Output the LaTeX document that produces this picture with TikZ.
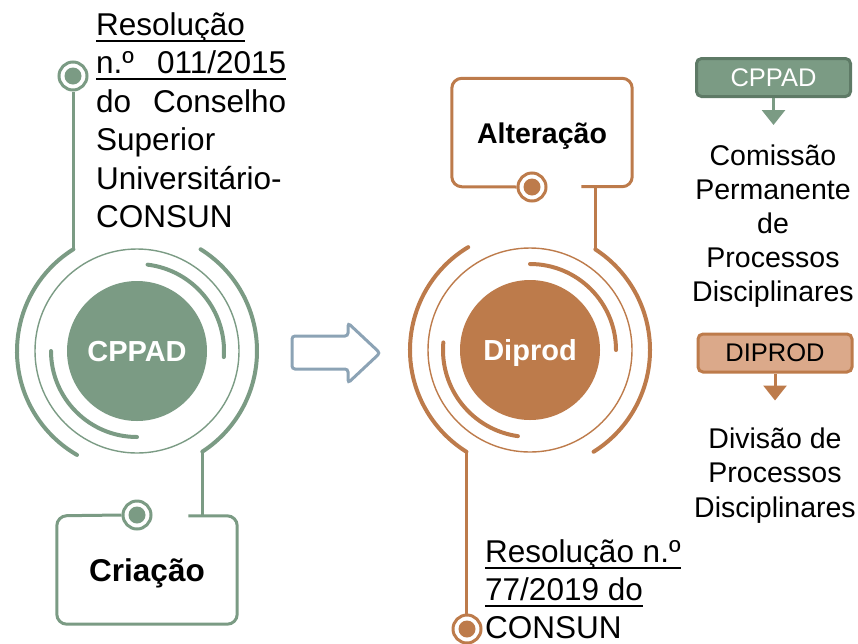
\documentclass[tikz,border=0pt]{standalone}
\usepackage{fontspec}
\setmainfont{Liberation Sans}
\usetikzlibrary{arrows.meta,positioning}

\definecolor{sage}{HTML}{7B9B84}
\definecolor{sagedark}{HTML}{5E7A66}
\definecolor{copper}{HTML}{BD7B4B}
\definecolor{copperlight}{HTML}{DBA98A}
\definecolor{steel}{HTML}{8CA3B5}

% underline at a fixed depth
\newcommand{\ulin}[1]{\setbox0\hbox{#1}\rlap{\rule[-6.5pt]{\wd0}{1.8pt}}\box0}

\begin{document}
\begin{tikzpicture}[x=1pt, y=1pt,
    hub/.style={circle, fill=#1, text=white, minimum size=140, inner sep=0, text height=20, text depth=0, font=\fontsize{29}{34}\selectfont\bfseries},
    ring/.style={draw=#1, line width=1.4},
    band/.style={draw=#1, line width=4, line cap=round},
    conn/.style={draw=#1, line width=3},
    marker/.style={circle, draw=#1, line width=3, fill=white, minimum size=28, inner sep=0,
        path picture={\fill[#1] (path picture bounding box.center) circle (8.5);}},
    card/.style={minimum width=180, minimum height=108, inner sep=0, text depth=0},
    cardline/.style={draw=#1, line width=3, rounded corners=10},
    txt/.style={inner sep=0, anchor=base west, font=\fontsize{31.5}{38.5}\selectfont},
    keybox/.style={draw=#1, line width=3, rounded corners=5, minimum width=154, minimum height=38, inner sep=0, font=\fontsize{25.5}{30}\selectfont},
    keytxt/.style={inner sep=0, anchor=base, font=\fontsize{28.5}{34}\selectfont},
    keyarrow/.style={draw=#1, line width=3, -{Triangle[width=23pt,length=15pt,fill=#1]}}
]
\useasboundingbox (0,0) rectangle (858,-643);

% CPPAD (left)
\node[hub=sage] (cppad) at (137,-351) {CPPAD};
\draw[ring=sage] (cppad.center) circle (102);
\draw[band=sage] ([shift={(122:120)}]cppad.center) arc[start angle=122, end angle=240, radius=120];
\draw[band=sage] ([shift={(-57:120)}]cppad.center) arc[start angle=-57, end angle=58, radius=120];
\draw[band=sage] ([shift={(180:86)}]cppad.center) arc[start angle=180, end angle=270, radius=86];
\draw[band=sage] ([shift={(83:87)}]cppad.center) arc[start angle=83, end angle=-4, radius=87];
\coordinate (g1) at ([shift={(122:120)}]cppad.center);
\coordinate (g2) at ([shift={(-57:120)}]cppad.center);

\node[marker=sage] (m1) at (73,-76) {};
\draw[conn=sage] (m1.south) -- (m1 |- g1);

\node[card, text height=23, font=\fontsize{31.5}{36}\selectfont\bfseries] (criacao) at (147,-570) {Criação};
\node[marker=sage] (m2) at (137,-515) {};
\draw[conn=sage] (g2) -- (g2 |- criacao.north);
\draw[cardline=sage] (m2.west) -- (criacao.north west) -- (criacao.south west) -- (criacao.south east) -- (criacao.north east) -- ([xshift=-14pt]criacao.north -| g2);

\node[txt] (r1) at (96,-35) {\ulin{Resolução}};
\node[txt] (r2) at (96,-73.5) {\ulin{\makebox[190pt][s]{n.º\hfill 011/2015}}};
\node[txt] (r3) at (96,-112) {\makebox[190pt][s]{do\hfill Conselho}};
\node[txt] (r4) at (96,-150.5) {Superior};
\node[txt] (r5) at (96,-189) {Universitário-};
\node[txt] (r6) at (96,-227.5) {CONSUN};

% arrow between the two
\draw[steel, line width=3, rounded corners=3] (292,-336) -- (348,-336) -- (348,-323) -- (380,-353) -- (348,-383) -- (348,-369) -- (292,-369) -- cycle;

% Diprod (right)
\node[hub=copper] (diprod) at (530,-350) {Diprod};
\draw[ring=copper] (diprod.center) circle (102);
\draw[band=copper] ([shift={(121:120)}]diprod.center) arc[start angle=121, end angle=238, radius=120];
\draw[band=copper] ([shift={(-58:120)}]diprod.center) arc[start angle=-58, end angle=57, radius=120];
\draw[band=copper] ([shift={(175:87)}]diprod.center) arc[start angle=175, end angle=262, radius=87];
\draw[band=copper] ([shift={(90:86)}]diprod.center) arc[start angle=90, end angle=0, radius=86];
\coordinate (d1) at ([shift={(57:120)}]diprod.center);
\coordinate (d2) at ([shift={(238:120)}]diprod.center);

\node[card, text height=21, font=\fontsize{28.5}{34}\selectfont\bfseries] (alteracao) at (542,-132.5) {Alteração};
\node[marker=copper] (m3) at (532,-187) {};
\draw[conn=copper] (d1) -- (d1 |- alteracao.south);
\draw[cardline=copper] (m3.west) -- (alteracao.south west) -- (alteracao.north west) -- (alteracao.north east) -- (alteracao.south east) -- ([xshift=-14pt]alteracao.south -| d1);

\node[marker=copper] (m4) at (467,-629) {};
\draw[conn=copper] (d2) -- (d2 |- m4.north);

\node[txt] (s1) at (485,-562) {\ulin{Resolução n.º}};
\node[txt] (s2) at (485,-600) {\ulin{77/2019 do}};
\node[txt] (s3) at (485,-638) {CONSUN};

% key
\node[keybox=sagedark, fill=sage, text=white] (cppadkey) at (773.5,-77.5) {CPPAD};
\draw[keyarrow=sage] (cppadkey.south) -- ++(0,-27);
\foreach \t [count=\i] in {Comissão,Permanente,de,Processos,Disciplinares}
  \node[keytxt] (cpl\i) at (773,{-165-34.2*(\i-1)}) {\t};

\node[keybox=copper, fill=copperlight] (diprodkey) at (775,-353) {DIPROD};
\draw[keyarrow=copper] (diprodkey.south) -- ++(0,-27);
\foreach \t [count=\i] in {Divisão de,Processos,Disciplinares}
  \node[keytxt] (dpl\i) at (775,{-448-34.5*(\i-1)}) {\t};

\end{tikzpicture}
\end{document}
